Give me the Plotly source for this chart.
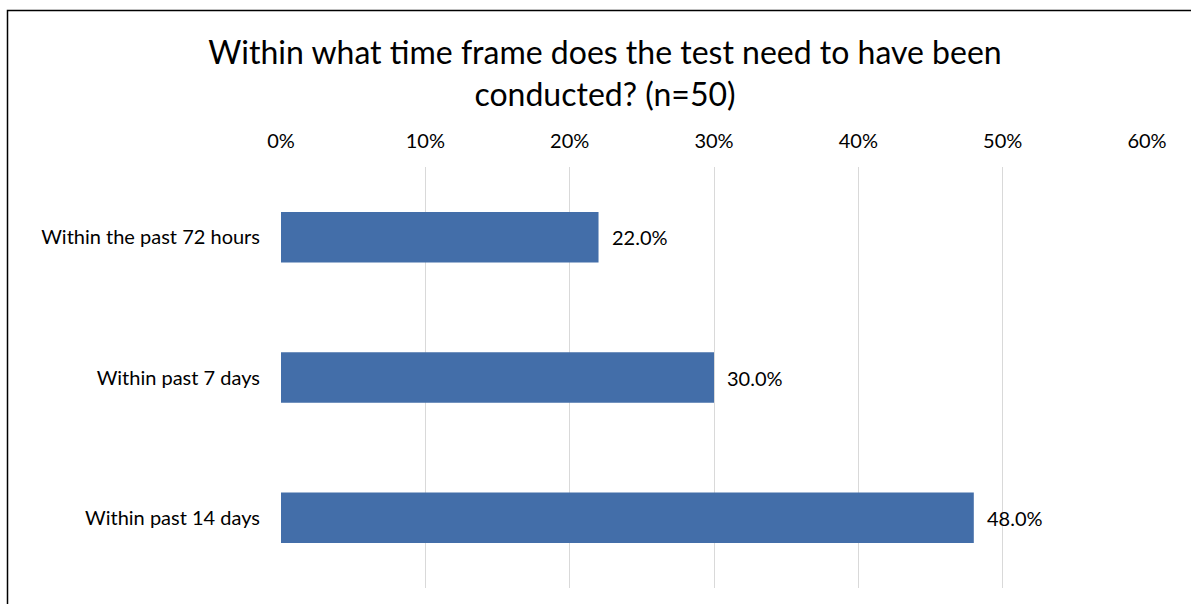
import plotly.graph_objects as go

categories = ["Within the past 72 hours", "Within past 7 days", "Within past 14 days"]
values = [0.22, 0.30, 0.48]
labels = ["22.0%", "30.0%", "48.0%"]
tick_vals = [0, 0.1, 0.2, 0.3, 0.4, 0.5, 0.6]
tick_text = ["0%", "10%", "20%", "30%", "40%", "50%", "60%"]

W, H = 1191, 604
ml, mr, mt, mb = 281, 44, 167, 16
pw, ph = W - ml - mr, H - mt - mb

fig = go.Figure(go.Bar(
    x=values, y=categories, orientation="h",
    marker=dict(color="#436EA9", line=dict(width=0)),
    width=0.36,
))

# data labels to the right of each bar
for c, v, t in zip(categories, values, labels):
    fig.add_annotation(x=v, y=c, text=t, showarrow=False,
                       xanchor="left", xshift=11,
                       font=dict(size=20, color="#000000"))

# outer chart border (px -> paper)
def px_x(p):
    return (p - ml) / pw

def px_y(p):
    return (H - mb - p) / ph

fig.add_shape(type="rect", xref="paper", yref="paper",
              x0=px_x(7.5), x1=px_x(1200), y0=px_y(620), y1=px_y(10.5),
              line=dict(color="#000000", width=1.5), layer="above")

fig.update_layout(
    width=W, height=H,
    margin=dict(l=ml, r=mr, t=mt, b=mb),
    paper_bgcolor="white", plot_bgcolor="white",
    font=dict(family="Lato, Carlito, sans-serif", color="#000000"),
    title=dict(
        text="Within what time frame does the test need to have been<br>conducted? (n=50)",
        x=0.508, xanchor="center", y=0.894, yanchor="top",
        font=dict(size=32, color="#000000"),
    ),
    xaxis=dict(
        side="top", range=[0, 0.6], tickvals=tick_vals, ticktext=tick_text,
        showgrid=True, gridcolor="#D9D9D9", gridwidth=1.3,
        zeroline=False, showline=False, ticks="",
        ticklabelstandoff=14, tickfont=dict(size=20),
    ),
    yaxis=dict(
        autorange="reversed", showgrid=False, zeroline=False, showline=False,
        ticks="", ticklabelstandoff=20, tickfont=dict(size=20),
    ),
    showlegend=False,
)

fig.write_html("out.html", config={"displayModeBar": False},
               post_script="document.body.style.margin='0';")
